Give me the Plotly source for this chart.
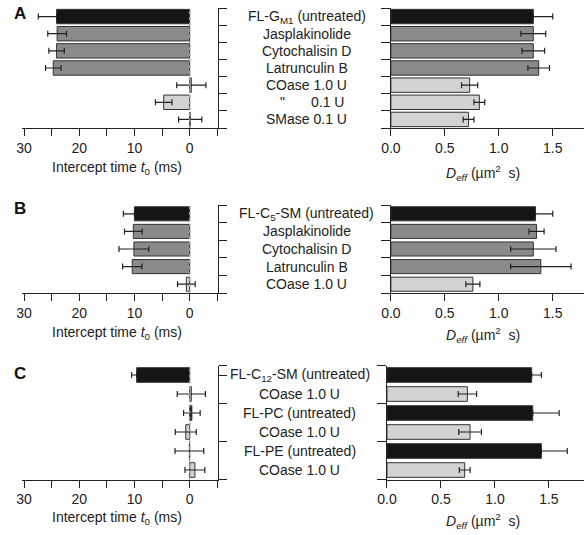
import plotly.graph_objects as go

W, H = 585, 535
FONT = "Liberation Sans, Arial, Helvetica, sans-serif"

# ---------------- data ----------------
A_labels = ["FL-G<sub>M1</sub> (untreated)", "Jasplakinolide", "Cytochalisin D",
            "Latrunculin B", "COase 1.0 U", "\"", "SMase 0.1 U"]
A_ditto_label = "0.1 U"
A_group = ["untreated", "drug", "drug", "drug", "enzyme", "enzyme", "enzyme"]
A_t0 = [24.1, 24.0, 24.1, 24.7, -0.3, 4.7, -0.1]
A_t0_plus = [3.3, 1.7, 1.4, 1.4, 2.65, 1.5, 2.1]
A_t0_minus = [0.0, 1.7, 1.4, 1.4, 2.65, 1.5, 2.1]
A_deff = [1.32, 1.32, 1.32, 1.37, 0.73, 0.82, 0.72]
A_deff_plus = [0.18, 0.115, 0.105, 0.10, 0.075, 0.05, 0.05]
A_deff_minus = [0.0, 0.115, 0.105, 0.10, 0.075, 0.05, 0.05]

B_labels = ["FL-C<sub>5</sub>-SM (untreated)", "Jasplakinolide", "Cytochalisin D",
            "Latrunculin B", "COase 1.0 U"]
B_group = ["untreated", "drug", "drug", "drug", "enzyme"]
B_t0 = [10.0, 10.2, 10.1, 10.4, 0.6]
B_t0_plus = [2.0, 1.6, 2.7, 1.75, 1.6]
B_t0_minus = [0.0, 1.6, 2.7, 1.75, 1.6]
B_deff = [1.34, 1.35, 1.32, 1.39, 0.76]
B_deff_plus = [0.16, 0.07, 0.21, 0.28, 0.065]
B_deff_minus = [0.0, 0.07, 0.21, 0.28, 0.065]

C_labels = ["FL-C<sub>12</sub>-SM (untreated)", "COase 1.0 U", "FL-PC (untreated)",
            "COase 1.0 U", "FL-PE (untreated)", "COase 1.0 U"]
C_group = ["untreated", "enzyme", "untreated", "enzyme", "untreated", "enzyme"]
C_t0 = [9.6, -0.3, -0.4, 0.7, 0.05, -0.95]
C_t0_plus = [0.9, 2.55, 1.5, 1.9, 2.6, 1.8]
C_t0_minus = [0.0, 2.55, 1.5, 1.9, 2.6, 1.8]
C_deff = [1.34, 0.745, 1.35, 0.77, 1.43, 0.72]
C_deff_plus = [0.09, 0.085, 0.245, 0.105, 0.24, 0.05]
C_deff_minus = [0.0, 0.085, 0.0, 0.105, 0.0, 0.05]

t0_ticks = [30, 25, 20, 15, 10, 5, 0, -5]
t0_ticktext = ["30", "", "20", "", "10", "", "0", ""]
deff_ticks = [0, 0.5, 1.0, 1.5]
deff_ticktext = ["0.0", "0.5", "1.0", "1.5"]

COLORS = {"untreated": "#151515", "drug": "#8a8a8a", "enzyme": "#d3d3d3"}


def px_x(p):
    return p / W


def px_y(p):
    return 1 - p / H


panels = [
    dict(labels=A_labels, group=A_group, t0=A_t0, t0p=A_t0_plus, t0m=A_t0_minus,
         deff=A_deff, dp=A_deff_plus, dm=A_deff_minus, top=8, bot=128, bw=0.84,
         rleft=387.5, rrange=[0, 1.79], labx=302, letter="A", lettery=13.5,
         ttl_l=168, ttl_r=173, groupticks=False),
    dict(labels=B_labels, group=B_group, t0=B_t0, t0p=B_t0_plus, t0m=B_t0_minus,
         deff=B_deff, dp=B_deff_plus, dm=B_deff_minus, top=205, bot=293, bw=0.8,
         rleft=387.5, rrange=[0, 1.79], labx=302, letter="B", lettery=208.5,
         ttl_l=333, ttl_r=335, groupticks=False),
    dict(labels=C_labels, group=C_group, t0=C_t0, t0p=C_t0_plus, t0m=C_t0_minus,
         deff=C_deff, dp=C_deff_plus, dm=C_deff_minus, top=365.5, bot=479.5, bw=0.77,
         rleft=383.5, rrange=[0, 1.825], labx=295, letter="C", lettery=373.5,
         ttl_l=518, ttl_r=521, groupticks=True),
]

fig = go.Figure()
layout = dict(width=W, height=H, autosize=False,
              margin=dict(l=0, r=0, t=0, b=0),
              paper_bgcolor="white", plot_bgcolor="white",
              showlegend=False, font=dict(family=FONT, size=14, color="#222"),
              annotations=[], shapes=[])

axis_line = dict(showline=True, linecolor="#222", linewidth=1, showgrid=False,
                 zeroline=False, ticks="outside", tickcolor="#222", tickwidth=1)


def sx(k):
    return "x" if k == 1 else f"x{k}"


def sy(k):
    return "y" if k == 1 else f"y{k}"


for i, p in enumerate(panels):
    n = len(p["labels"])
    xl, yl = 2 * i + 1, 2 * i + 1
    xr, yr = 2 * i + 2, 2 * i + 2
    ydom = [px_y(p["bot"]), px_y(p["top"])]
    colors = [COLORS[g] for g in p["group"]]
    idx = list(range(n))

    fig.add_trace(go.Bar(
        x=p["t0"], y=idx, orientation="h", xaxis=sx(xl), yaxis=sy(yl),
        width=p["bw"], marker=dict(color=colors, line=dict(color="#333", width=1)),
        error_x=dict(type="data", symmetric=False, array=p["t0p"], arrayminus=p["t0m"],
                     color="#222", thickness=1.2, width=3),
        hoverinfo="skip"))
    fig.add_trace(go.Bar(
        x=p["deff"], y=idx, orientation="h", xaxis=sx(xr), yaxis=sy(yr),
        width=p["bw"], marker=dict(color=colors, line=dict(color="#333", width=1)),
        error_x=dict(type="data", symmetric=False, array=p["dp"], arrayminus=p["dm"],
                     color="#222", thickness=1.2, width=3),
        hoverinfo="skip"))

    if p["groupticks"]:
        ytv_l = [-0.5, 0] + [k + 1.5 for k in range(0, n, 2)]
        ytv_r = [-0.5] + [k + 1.5 for k in range(0, n, 2)]
    else:
        ytv_l = [k - 0.5 for k in range(n + 1)]
        ytv_r = ytv_l

    kx = "xaxis" if xl == 1 else f"xaxis{xl}"
    layout[kx] = dict(axis_line, domain=[px_x(12), px_x(212)], range=[30.4, -5.2],
                      anchor=sy(yl), tickvals=t0_ticks, ticktext=t0_ticktext,
                      ticklen=7, tickfont=dict(size=14, family=FONT, color="#222"))
    layout[f"yaxis{'' if yl == 1 else yl}"] = dict(
        axis_line, domain=ydom, range=[n - 0.5, -0.5], anchor=sx(xl), side="right",
        tickvals=ytv_l, showticklabels=False, ticklen=8)
    layout[f"xaxis{xr}"] = dict(axis_line, domain=[px_x(p["rleft"]), px_x(584)],
                                range=p["rrange"], anchor=sy(yr), tickvals=deff_ticks,
                                ticktext=deff_ticktext, ticklen=7,
                                tickfont=dict(size=14, family=FONT, color="#222"))
    layout[f"yaxis{yr}"] = dict(axis_line, domain=ydom, range=[n - 0.5, -0.5],
                                anchor=sx(xr), side="left", tickvals=ytv_r,
                                showticklabels=False, ticklen=9)

    layout["shapes"].append(dict(type="line", xref=sx(xl), yref=f"{sy(yl)} domain",
                                 x0=0, x1=0, y0=0, y1=1,
                                 line=dict(color="#9a9a9a", width=1.5, dash="dot"),
                                 layer="above"))

    for k, lab in enumerate(p["labels"]):
        if lab == "\"":
            layout["annotations"].append(dict(text="\"", xref="paper", yref=sy(yl),
                                              x=px_x(277), y=k, showarrow=False,
                                              xanchor="center", yanchor="middle",
                                              font=dict(size=14, family=FONT, color="#222")))
            layout["annotations"].append(dict(text=A_ditto_label, xref="paper", yref=sy(yl),
                                              x=px_x(342), y=k, showarrow=False,
                                              xanchor="right", yanchor="middle",
                                              font=dict(size=14, family=FONT, color="#222")))
        else:
            layout["annotations"].append(dict(text=lab, xref="paper", yref=sy(yl),
                                              x=px_x(p["labx"]), y=k, showarrow=False,
                                              xanchor="center", yanchor="middle",
                                              font=dict(size=14, family=FONT, color="#222")))

    layout["annotations"].append(dict(text="Intercept time <i>t</i><sub>0</sub> (ms)",
                                      xref="paper", yref="paper", x=px_x(109),
                                      y=px_y(p["ttl_l"]), showarrow=False,
                                      xanchor="center", yanchor="middle",
                                      font=dict(size=14, family=FONT, color="#222")))
    layout["annotations"].append(dict(text="<i>D<sub>eff</sub></i> (µm<sup>2</sup>  s)",
                                      xref="paper", yref="paper", x=px_x(481),
                                      y=px_y(p["ttl_r"]), showarrow=False,
                                      xanchor="center", yanchor="middle",
                                      font=dict(size=14, family=FONT, color="#222")))
    layout["annotations"].append(dict(text=f"<b>{p['letter']}</b>", xref="paper",
                                      yref="paper", x=px_x(2), y=px_y(p["lettery"]),
                                      showarrow=False, xanchor="left", yanchor="middle",
                                      font=dict(size=17, family=FONT, color="#111")))

fig.update_layout(**layout)
fig.write_html("out.html", config={"displayModeBar": False},
               post_script="document.body.style.margin='0px';document.body.style.overflow='hidden';")
